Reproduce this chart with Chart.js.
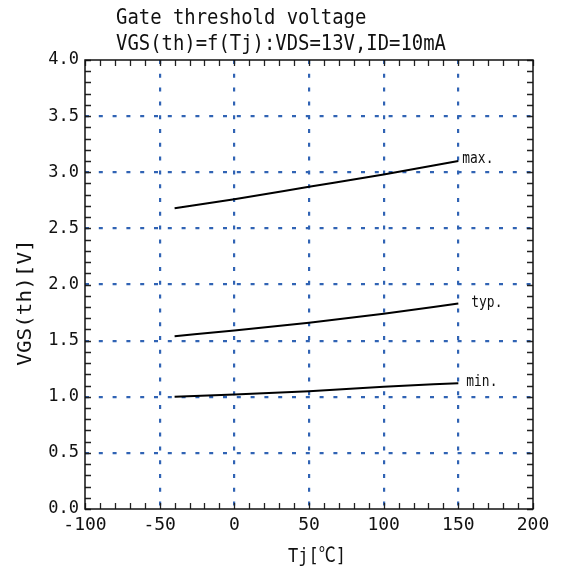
<!DOCTYPE html>
<html><head><meta charset="utf-8">
<script src="https://cdn.jsdelivr.net/npm/chart.js@4/dist/chart.umd.min.js"></script>
<style>html,body{margin:0;padding:0;background:#fff}canvas{display:block}</style>
</head><body>
<canvas id="c" width="563" height="570"></canvas>
<script>
// ---- data ----
const temperatures = [-40, 0, 50, 100, 150];
const vgsMax = [2.68, 2.76, 2.87, 2.98, 3.10];
const vgsTyp = [1.54, 1.59, 1.66, 1.74, 1.83];
const vgsMin = [1.00, 1.02, 1.05, 1.09, 1.12];
const seriesLabels = ['max.', 'typ.', 'min.'];
const xTickValues = [-100, -50, 0, 50, 100, 150, 200];
const yTickValues = [0, 0.5, 1.0, 1.5, 2.0, 2.5, 3.0, 3.5, 4.0];
const titleLines = ['Gate threshold voltage', 'VGS(th)=f(Tj):VDS=13V,ID=10mA'];
const xAxisTitle = 'Tj[℃]';
const yAxisTitle = 'VGS(th)[V]';

// ---- style ----
const GRID_BLUE = '#3063b4';
const MONO = '"DejaVu Sans Mono", "Liberation Mono", "Noto Sans CJK JP", monospace';

function toPoints(ys) { return temperatures.map((t, i) => ({ x: t, y: ys[i] })); }

function condensedText(ctx, text, x, y, size, sx, align, baseline) {
  ctx.save();
  ctx.font = size + 'px ' + MONO;
  ctx.translate(x, y);
  ctx.scale(sx, 1);
  ctx.textAlign = align || 'left';
  ctx.textBaseline = baseline || 'alphabetic';
  ctx.fillStyle = '#111';
  ctx.fillText(text, 0, 0);
  ctx.restore();
}

const decor = {
  id: 'decor',
  afterDraw(chart) {
    const ctx = chart.ctx;
    const a = chart.chartArea;
    const xs = chart.scales.x, ys = chart.scales.y;
    ctx.save();
    // inward minor ticks
    ctx.strokeStyle = '#222';
    ctx.lineWidth = 1.3;
    ctx.beginPath();
    for (let v = xs.min; v <= xs.max + 1e-9; v += 10) {
      const px = Math.round(xs.getPixelForValue(v)) + 0.5;
      ctx.moveTo(px, a.bottom); ctx.lineTo(px, a.bottom - 6);
      ctx.moveTo(px, a.top); ctx.lineTo(px, a.top + 6);
    }
    for (let i = 0; i <= 40; i++) {
      const py = Math.round(ys.getPixelForValue(i / 10)) + 0.5;
      ctx.moveTo(a.left, py); ctx.lineTo(a.left + 6, py);
      ctx.moveTo(a.right, py); ctx.lineTo(a.right - 6, py);
    }
    ctx.stroke();
    // frame
    ctx.strokeStyle = '#111';
    ctx.lineWidth = 1.5;
    ctx.strokeRect(a.left, a.top, a.right - a.left, a.bottom - a.top);
    ctx.restore();

    // series end labels
    const offsets = [[4, -2], [13, 0], [8, -1]];
    chart.data.datasets.forEach((ds, i) => {
      const meta = chart.getDatasetMeta(i);
      const last = meta.data[meta.data.length - 1];
      condensedText(ctx, seriesLabels[i], last.x + offsets[i][0], last.y + offsets[i][1], 15, 0.86, 'left', 'middle');
    });

    // titles
    condensedText(ctx, titleLines[0], 116, 24, 21, 0.9);
    condensedText(ctx, titleLines[1], 116, 50, 21, 0.9);
    // x axis title
    condensedText(ctx, xAxisTitle, (a.left + a.right) / 2 + 8, 557, 20, 0.85, 'center', 'middle');
    // y axis title
    ctx.save();
    ctx.translate(26, (a.top + a.bottom) / 2 + 18);
    ctx.rotate(-Math.PI / 2);
    condensedText(ctx, yAxisTitle, 0, 0, 20, 1.05, 'center', 'middle');
    ctx.restore();
  }
};

const gridColor = (c) => {
  const s = c.scale;
  if (!c.tick) return GRID_BLUE;
  return (c.tick.value === s.min || c.tick.value === s.max) ? 'rgba(0,0,0,0)' : GRID_BLUE;
};

new Chart(document.getElementById('c'), {
  type: 'line',
  data: {
    datasets: [
      { label: seriesLabels[0], data: toPoints(vgsMax) },
      { label: seriesLabels[1], data: toPoints(vgsTyp) },
      { label: seriesLabels[2], data: toPoints(vgsMin) }
    ]
  },
  options: {
    responsive: false,
    animation: false,
    devicePixelRatio: 1,
    layout: { padding: { left: 0, top: 60, right: 30, bottom: 0 } },
    elements: {
      point: { radius: 0 },
      line: { borderColor: '#000', borderWidth: 2, tension: 0.3, cubicInterpolationMode: 'monotone', fill: false }
    },
    plugins: { legend: { display: false }, tooltip: { enabled: false }, title: { display: false } },
    scales: {
      x: {
        type: 'linear', min: -100, max: 200,
        afterBuildTicks: (s) => { s.ticks = xTickValues.map(v => ({ value: v })); },
        afterFit: (s) => { s.height = 61; },
        grid: { color: gridColor, lineWidth: 2.2, drawTicks: false },
        border: { display: false, dash: [4, 9.8] },
        ticks: { font: { family: MONO, size: 18 }, color: '#111', padding: 6, maxRotation: 0, autoSkip: false }
      },
      y: {
        type: 'linear', min: 0, max: 4,
        afterBuildTicks: (s) => { s.ticks = yTickValues.map(v => ({ value: v })); },
        afterFit: (s) => { s.width = 85; },
        grid: { color: gridColor, lineWidth: 2.2, drawTicks: false },
        border: { display: false, dash: [4, 9.8] },
        ticks: { font: { family: MONO, size: 17 }, color: '#111', padding: 6, autoSkip: false,
                 callback: (v) => Number(v).toFixed(1) }
      }
    }
  },
  plugins: [decor]
});
</script>
</body></html>
